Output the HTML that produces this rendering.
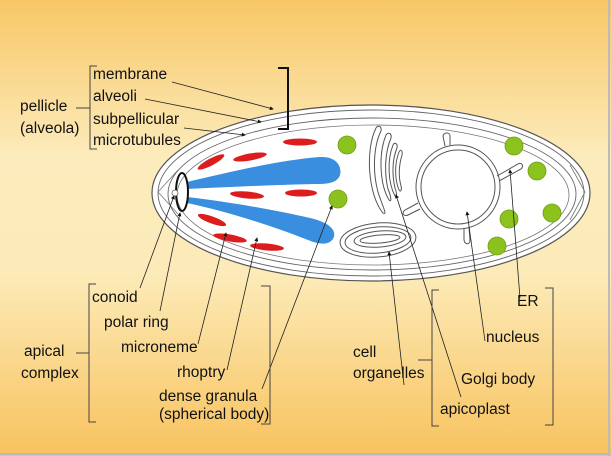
<!DOCTYPE html>
<html><head><meta charset="utf-8"><style>
html,body{margin:0;padding:0;width:611px;height:456px;overflow:hidden}
svg{display:block}
text{font-family:"Liberation Sans",Arial,sans-serif;font-size:15.5px;fill:#111}
</style></head><body>
<svg width="611" height="456" viewBox="0 0 611 456" xmlns="http://www.w3.org/2000/svg">
<defs>
<linearGradient id="bg" x1="0" y1="0" x2="0" y2="1">
<stop offset="0" stop-color="#f8c766"/>
<stop offset="0.35" stop-color="#fcecbd"/>
<stop offset="0.6" stop-color="#fcebb8"/>
<stop offset="1" stop-color="#f8c25e"/>
</linearGradient>
<marker id="a" markerWidth="5" markerHeight="5" refX="4" refY="2.5" orient="auto"><path d="M0,0L5,2.5L0,5z" fill="#111"/></marker>
</defs>
<rect width="611" height="456" fill="url(#bg)"/>
<line x1="609" y1="0" x2="609" y2="456" stroke="#bbb" stroke-width="2"/>
<line x1="0" y1="454" x2="611" y2="454" stroke="#bbb" stroke-width="2"/>

<ellipse cx="371" cy="193" rx="219" ry="88" fill="#fff" stroke="#555" stroke-width="1.2"/>
<ellipse cx="371" cy="193" rx="213" ry="83" fill="none" stroke="#666" stroke-width="0.9"/>
<ellipse cx="372" cy="194" rx="204" ry="76" fill="none" stroke="#666" stroke-width="0.9"/>
<ellipse cx="373" cy="195" rx="196" ry="70" fill="none" stroke="#777" stroke-width="0.8"/>
<path d="M158,192 L178,170 M158,192 L178,214 M585,192 L570,165 M585,192 L570,220" stroke="#777" stroke-width="0.8" fill="none"/>

<path d="M187,182 C230,172 280,160 320,157 C338,156 342,168 340,175 C337,184 325,184 315,184 C270,185 230,187 187,189 Z" fill="#3a8ee0"/>
<path d="M187,197 C230,202 275,210 310,218 C328,222 338,230 333,239 C328,246 318,244 308,240 C270,225 225,211 187,203 Z" fill="#3a8ee0"/>

<g fill="#dd1d1d">
<ellipse cx="300" cy="142" rx="17" ry="3.5"/>
<ellipse cx="211" cy="162" rx="15" ry="3.5" transform="rotate(-28 211 162)"/>
<ellipse cx="250" cy="157" rx="17" ry="3.5" transform="rotate(-10 250 157)"/>
<ellipse cx="247" cy="195" rx="17" ry="3.5" transform="rotate(5 247 195)"/>
<ellipse cx="301" cy="193" rx="16" ry="3.5"/>
<ellipse cx="212" cy="220" rx="15" ry="3.5" transform="rotate(20 212 220)"/>
<ellipse cx="230" cy="238" rx="17" ry="3.5" transform="rotate(10 230 238)"/>
<ellipse cx="267" cy="247" rx="17" ry="3.5" transform="rotate(5 267 247)"/>
</g>

<ellipse cx="182" cy="192" rx="6" ry="19" fill="none" stroke="#111" stroke-width="2"/>
<circle cx="175" cy="193" r="3" fill="#fff" stroke="#666" stroke-width="0.8"/>

<g fill="#8cc21e" stroke="#6d9e12" stroke-width="0.8">
<circle cx="347" cy="145" r="9"/>
<circle cx="338" cy="199" r="9"/>
<circle cx="514" cy="146" r="9"/>
<circle cx="537" cy="171" r="9"/>
<circle cx="552" cy="213" r="9"/>
<circle cx="509" cy="219" r="9"/>
<circle cx="497" cy="246" r="9"/>
</g>

<g fill="none" stroke="#555" stroke-width="1">
<path d="M376,128 C365,150 368,195 383,213 C388,216 382,205 378,192 C372,170 374,145 381,131 C382,126 378,125 376,128Z"/>
<path d="M386,135 C378,155 380,185 389,200 C392,203 391,196 388,189 C384,172 385,152 391,138 C392,133 388,132 386,135Z"/>
<path d="M393,145 C387,160 388,183 395,196 C397,198 397,193 395,188 C392,175 392,160 397,148 C398,143 394,142 393,145Z"/>
<path d="M399,152 C394,165 395,180 399,190 C401,193 402,189 401,186 C398,175 399,165 402,155 C403,150 400,149 399,152Z"/>
</g>

<g fill="none" stroke="#555" stroke-width="1">
<ellipse cx="378" cy="240" rx="38" ry="17" transform="rotate(-5 378 240)"/>
<ellipse cx="378" cy="240" rx="33" ry="13" transform="rotate(-5 378 240)"/>
<ellipse cx="380" cy="239" rx="26" ry="8" transform="rotate(-5 380 239)"/>
<ellipse cx="380" cy="239" rx="20" ry="4" transform="rotate(-5 380 239)"/>
</g>

<g fill="none" stroke="#555" stroke-width="1">
<circle cx="458" cy="187" r="42"/>
<circle cx="458" cy="187" r="37"/>
<path d="M445,146 L443,136 C444,132 450,132 450,136 L450,145"/>
<path d="M497,176 L518,164 C522,162 524,166 521,169 L499,181"/>
<path d="M418,203 L405,210 C401,213 404,217 408,215 L420,209"/>
<path d="M464,228 L464,240 C465,245 470,245 470,240 L469,227"/>
</g>

<path d="M278,68 L288,68 L288,129 L278,129" fill="none" stroke="#111" stroke-width="2"/>
<path d="M97,66 L90,66 L90,149 L97,149 M90,108 L76,108" fill="none" stroke="#444" stroke-width="1"/>
<text x="93" y="79">membrane</text>
<text x="93" y="101">alveoli</text>
<text x="93" y="124">subpellicular</text>
<text x="93" y="145">microtubules</text>
<text x="20" y="111">pellicle</text>
<text x="20" y="133">(alveola)</text>

<g stroke="#222" stroke-width="0.8" fill="none" marker-end="url(#a)">
<line x1="172" y1="82" x2="273" y2="109"/>
<line x1="145" y1="99" x2="261" y2="122"/>
<line x1="184" y1="128" x2="245" y2="135"/>
<line x1="140" y1="288" x2="174" y2="196"/>
<line x1="160" y1="311" x2="180" y2="213"/>
<line x1="198" y1="344" x2="226" y2="233"/>
<line x1="227" y1="370" x2="257" y2="238"/>
<line x1="262" y1="389" x2="332" y2="206"/>
<line x1="404" y1="385" x2="389" y2="252"/>
<line x1="461" y1="397" x2="396" y2="195"/>
<line x1="485" y1="341" x2="467" y2="212"/>
<line x1="520" y1="298" x2="510" y2="170"/>
</g>

<path d="M96,284 L89,284 L89,422 L96,422 M89,353 L76,353" fill="none" stroke="#444" stroke-width="1"/>
<path d="M261,286 L270,286 L270,424 L261,424" fill="none" stroke="#444" stroke-width="1"/>
<text x="92" y="302">conoid</text>
<text x="104" y="327">polar ring</text>
<text x="121" y="352">microneme</text>
<text x="24" y="356">apical</text>
<text x="21" y="378">complex</text>
<text x="177" y="377">rhoptry</text>
<text x="159" y="401">dense granula</text>
<text x="159" y="419">(spherical body)</text>

<path d="M439,290 L432,290 L432,426 L439,426 M432,360 L418,360" fill="none" stroke="#444" stroke-width="1"/>
<path d="M545,288 L553,288 L553,425 L545,425" fill="none" stroke="#444" stroke-width="1"/>
<text x="517" y="306">ER</text>
<text x="486" y="342">nucleus</text>
<text x="353" y="357">cell</text>
<text x="353" y="378">organelles</text>
<text x="461" y="384">Golgi body</text>
<text x="440" y="414">apicoplast</text>
</svg>
</body></html>
